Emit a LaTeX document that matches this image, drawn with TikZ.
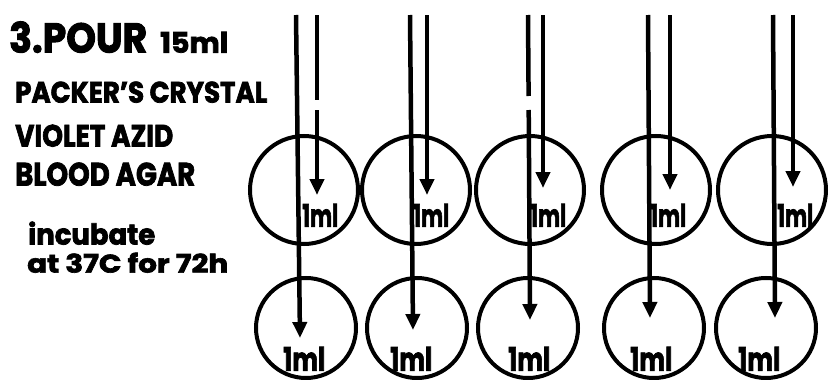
\documentclass[tikz,border=0pt]{standalone}
\usepackage{fontspec}
\setmainfont{Poppins}[BoldFeatures={FakeBold=2.5}]
\usetikzlibrary{arrows.meta}
\tikzset{
  plate/.style={circle,draw,line width=4pt,inner sep=0pt},
  topplate/.style={plate,minimum size=108pt},
  botplate/.style={plate,minimum size=100pt},
  pipette/.style={line width=4.5pt,-{Triangle[width=14pt,length=16pt]}},
  plain/.style={line width=4.5pt},
  lbl/.style={inner sep=0pt,anchor=south west},
}
\newcommand{\fitbox}[3]{\resizebox{#1pt}{#2pt}{\bfseries #3}}
\begin{document}
\begin{tikzpicture}[x=1pt,y=-1pt]
\useasboundingbox (0,0) rectangle (831,380);
% texts
\node[lbl] (title) at (9,53) {\fitbox{138}{31}{3.POUR}};
\node[lbl] (vol) at (160,53) {\fitbox{68}{21}{15ml}};
\node[lbl] (m1) at (15,103) {\fitbox{252}{21}{PACKER'S CRYSTAL}};
\node[lbl] (m2) at (15,147) {\fitbox{158}{22}{VIOLET AZID}};
\node[lbl] (m3) at (15,186) {\fitbox{180}{23}{BLOOD AGAR}};
\node[lbl] (inc1) at (28,245) {\fitbox{127}{23}{incubate}};
\node[lbl] (inc2) at (27,273) {\fitbox{201}{20}{at 37C for 72h}};
% plates
\foreach \i/\tx/\bx in {1/304/306, 2/416/417, 3/530/528, 4/656/654, 5/772/766} {
  \node[topplate] (t\i) at (\tx,190) {};
  \node[botplate] (b\i) at (\bx,328) {};
}
% top labels
\foreach \i/\x in {1/302, 2/413, 3/530, 4/650, 5/777} {
  \node[lbl] (tl\i) at (\x,227) {\fitbox{36}{23}{1ml}};
}
\foreach \i/\x in {1/283, 2/390, 3/508, 4/630, 5/738} {
  \node[lbl] (bl\i) at (\x,371) {\fitbox{42}{24}{1ml}};
}
% coordinates: long pipette (to bottom plate) and short pipette (to top plate)
\foreach \i/\la/\lb/\lt/\sa/\sb/\st in {1/296/300/338/317/317/195, 2/410/413/330/427/427/195, 3/528/530/320/543/543/188, 4/648/650/318/670/670/190, 5/773/775/318/793/793/187} {
  \coordinate (ls\i) at (\la,15);
  \coordinate (le\i) at (\lb,\lt);
  \coordinate (ss\i) at (\sa,15);
  \coordinate (se\i) at (\sb,\st);
}
\coordinate (g1a) at (317,100);
\coordinate (g1b) at (317,110);
\draw[plain] (ss1) -- (g1a);
\draw[pipette] (g1b) -- (se1);
\foreach \i in {2,...,5} { \draw[pipette] (ss\i) -- (se\i); }
\foreach \i in {1,2,4,5} { \draw[pipette] (ls\i) -- (le\i); }
\coordinate (g3a) at (528.6,96);
\coordinate (g3b) at (528.7,110);
\draw[plain] (ls3) -- (g3a);
\draw[pipette] (g3b) -- (le3);
\end{tikzpicture}
\end{document}
